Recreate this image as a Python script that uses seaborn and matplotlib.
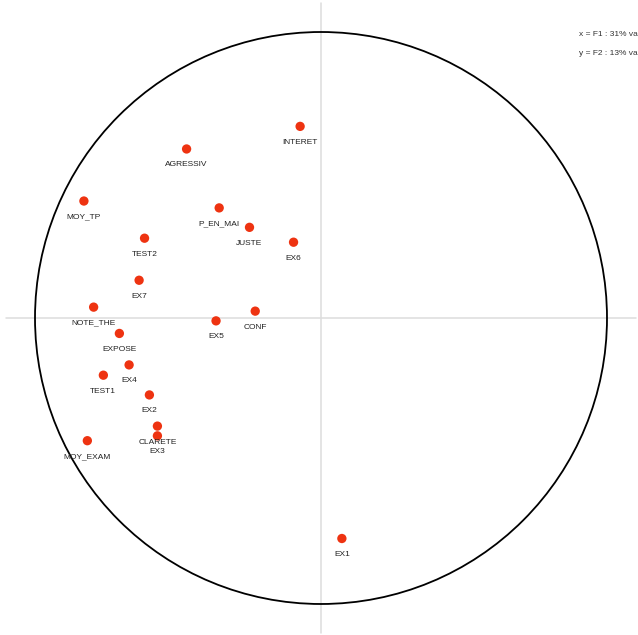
import numpy as np
import pandas as pd
import matplotlib
matplotlib.use("Agg")
import matplotlib.pyplot as plt
import seaborn as sns

# Correlation circle (PCA) - variables on F1 / F2

variables = ["INTERET", "AGRESSIV", "MOY_TP", "P_EN_MAI", "JUSTE", "EX6", "TEST2",
             "EX7", "NOTE_THE", "CONF", "EX5", "EXPOSE", "EX4", "TEST1", "EX2",
             "CLARETE", "EX3", "MOY_EXAM", "EX1"]
f1 = [-0.073, -0.470, -0.829, -0.356, -0.250, -0.096, -0.617,
      -0.636, -0.795, -0.230, -0.367, -0.705, -0.671, -0.761, -0.600,
      -0.572, -0.572, -0.817, 0.073]
f2 = [0.670, 0.591, 0.409, 0.385, 0.317, 0.265, 0.279,
      0.132, 0.038, 0.024, -0.010, -0.054, -0.164, -0.200, -0.269,
      -0.378, -0.412, -0.429, -0.771]

df = pd.DataFrame({"variable": variables, "F1": f1, "F2": f2})

sns.set_style("white")
plt.rcParams["font.family"] = ["Liberation Sans", "DejaVu Sans"]

fig = plt.figure(figsize=(6.38, 6.35), dpi=100)
ax = fig.add_axes([0, 0, 1, 1])

# Axes through the origin
ax.plot([-1.1, 1.1], [0, 0], color="#dddddd", lw=1.1, zorder=1)
ax.plot([0, 0], [-1.1, 1.1], color="#dddddd", lw=1.1, zorder=1)

# Unit circle
circle = plt.Circle((0, 0), 1.0, fill=False, color="black", lw=1.3, zorder=2)
ax.add_patch(circle)

# Variables
sns.scatterplot(data=df, x="F1", y="F2", ax=ax, color="#ee3311", s=45,
                edgecolor="none", zorder=3, legend=False)

for _, row in df.iterrows():
    ax.annotate(row["variable"], (row["F1"], row["F2"]), xytext=(0, -11.5),
                textcoords="offset points", ha="center", va="center",
                fontsize=6, color="#222222")

# Legend text in the top-right corner (cut by the edge, as in the original)
ax.text(0.907, 0.945, "x = F1 : 31% variance", transform=ax.transAxes,
        fontsize=6, color="#333333", va="center", ha="left")
ax.text(0.907, 0.915, "y = F2 : 13% variance", transform=ax.transAxes,
        fontsize=6, color="#333333", va="center", ha="left")

ax.set_xlim(-1.1224, 1.1084)
ax.set_ylim(-1.1084, 1.1119)
ax.set_xlabel("")
ax.set_ylabel("")
ax.axis("off")

fig.savefig("out.png", dpi=100)
